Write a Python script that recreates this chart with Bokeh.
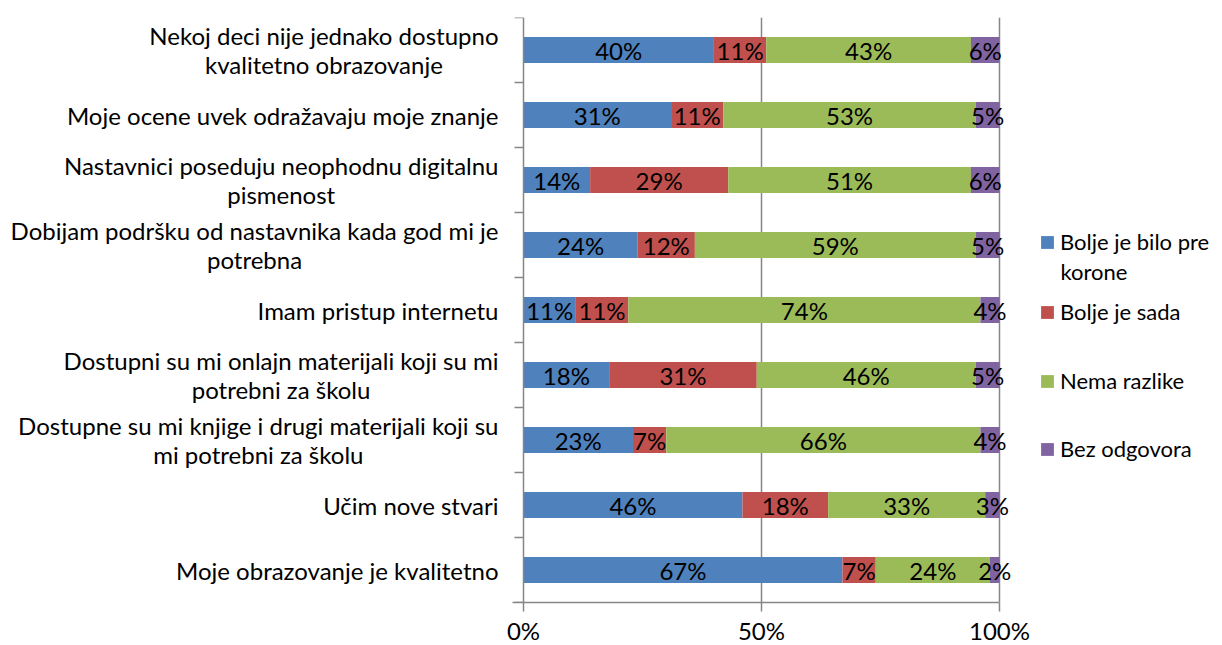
from bokeh.plotting import figure
from bokeh.models import ColumnDataSource, FixedTicker, Legend, LegendItem, Range1d, LinearAxis
from bokeh.core.properties import value
from bokeh.embed import file_html
from bokeh.resources import INLINE

categories = [
    "Nekoj deci nije jednako dostupno\nkvalitetno obrazovanje",
    "Moje ocene uvek odražavaju moje znanje",
    "Nastavnici poseduju neophodnu digitalnu\npismenost",
    "Dobijam podršku od nastavnika kada god mi je\npotrebna",
    "Imam pristup internetu",
    "Dostupni su mi onlajn materijali koji su mi\npotrebni za školu",
    "Dostupne su mi knjige i drugi materijali koji su\nmi potrebni za školu",
    "Učim nove stvari",
    "Moje obrazovanje je kvalitetno",
]
series_names = ["Bolje je bilo pre\nkorone", "Bolje je sada", "Nema razlike", "Bez odgovora"]
bolje_pre = [40, 31, 14, 24, 11, 18, 23, 46, 67]
bolje_sada = [11, 11, 29, 12, 11, 31, 7, 18, 7]
nema_razlike = [43, 53, 51, 59, 74, 46, 66, 33, 24]
bez_odgovora = [6, 5, 6, 5, 4, 5, 4, 3, 2]
x_ticks = [0, 50, 100]
x_tick_labels = ["0%", "50%", "100%"]

colors = ["#4F81BD", "#C0504D", "#9BBB59", "#8064A2"]
FONT = "Lato"
GRAY = "#868686"

# layout (pixels)
W, H = 1222, 645
ZERO_PX = 523          # page x of 0%
PX_PER_PCT = 4.76      # pixels per percent
TOP, FRAME_H = 17, 585
BOTTOM_PX = TOP + FRAME_H
LEG_X = 1039           # page x of legend squares
LEG_TEXT_X = 1060      # page x of legend texts
LEG_CENTERS = [242, 312, 381, 449]   # page y of legend rows
LEG_LINE = 29          # legend line spacing
LEG_FONT = "22px"

n = len(categories)
ypos = [n - i - 0.5 for i in range(n)]
keys = ["s0", "s1", "s2", "s3"]
series = [bolje_pre, bolje_sada, nema_razlike, bez_odgovora]
src = ColumnDataSource(dict(y=ypos, s0=bolje_pre, s1=bolje_sada, s2=nema_razlike, s3=bez_odgovora))

p = figure(frame_width=W, frame_height=FRAME_H,
           x_range=Range1d(-ZERO_PX / PX_PER_PCT, (W - ZERO_PX) / PX_PER_PCT),
           y_range=Range1d(0, n),
           y_axis_location=None,
           output_backend="svg", toolbar_location=None,
           min_border_left=0, min_border_right=0,
           min_border_top=TOP, min_border_bottom=H - TOP - FRAME_H)
p.outline_line_color = None
p.background_fill_color = "white"

renderers = p.hbar_stack(keys, y="y", height=0.4, color=colors, source=src, line_color=None)

# data labels
lx, ly, lt = [], [], []
for i in range(n):
    left = 0
    for s in series:
        v = s[i]
        lx.append(left + v / 2)
        ly.append(ypos[i])
        lt.append(f"{v}%")
        left += v
p.text(x="x", y="y", text="t", source=ColumnDataSource(dict(x=lx, y=ly, t=lt)),
       text_align="center", text_baseline="middle", text_font=value(FONT),
       text_font_size="24px", text_color="black")

# category labels (block right-aligned, lines centred)
p.text(x=[-25 / PX_PER_PCT] * n, y=ypos, text=categories,
       anchor="center_right", text_align="center", text_baseline="middle",
       text_line_height=1.0,
       text_font=value(FONT), text_font_size="24px", text_color="black")

# x axis
xa = p.xaxis[0]
xa.ticker = FixedTicker(ticks=x_ticks, minor_ticks=[])
xa.major_label_overrides = {t: l for t, l in zip(x_ticks, x_tick_labels)}
xa.bounds = (-11 / PX_PER_PCT, 100)
xa.axis_line_color = GRAY
xa.axis_line_width = 1.5
xa.major_tick_line_color = GRAY
xa.major_tick_line_width = 1.5
xa.major_tick_out = 9
xa.major_tick_in = 0
xa.minor_tick_line_color = None
xa.major_label_standoff = 4
xa.major_label_text_font = FONT
xa.major_label_text_font_size = "24px"
xa.major_label_text_color = "black"

# y axis at 0%
ya = LinearAxis(fixed_location=0,
                ticker=FixedTicker(ticks=[], minor_ticks=list(range(n + 1))),
                axis_line_color=GRAY, axis_line_width=1.5,
                major_tick_line_color=None, major_label_text_font_size="0px",
                minor_tick_line_color=GRAY, minor_tick_line_width=1.5,
                minor_tick_out=9, minor_tick_in=0)
p.add_layout(ya, "left")

p.xgrid.ticker = FixedTicker(ticks=[50, 100])
p.xgrid.grid_line_color = GRAY
p.xgrid.grid_line_width = 1.5
p.ygrid.grid_line_color = None

# legends, one per entry; extra lines of a name go below its first line
for name, r, cy in zip(series_names, renderers, LEG_CENTERS):
    lines = name.split("\n")
    lg = Legend(items=[LegendItem(label=lines[0], renderers=[r])],
                location=(LEG_X, BOTTOM_PX - cy - 13),
                padding=0, margin=0, border_line_color=None, background_fill_alpha=0,
                glyph_width=16, glyph_height=16, label_standoff=5,
                label_text_font=FONT, label_text_font_size=LEG_FONT, label_text_color="black")
    p.add_layout(lg, "center")
    for k, extra in enumerate(lines[1:], start=1):
        yy = n * (BOTTOM_PX - (cy + k * LEG_LINE)) / FRAME_H
        p.text(x=[(LEG_TEXT_X - ZERO_PX) / PX_PER_PCT], y=[yy], text=[extra],
               text_align="left", text_baseline="middle",
               text_font=value(FONT), text_font_size=LEG_FONT, text_color="black")

open("out.html", "w").write(file_html(p, INLINE))
